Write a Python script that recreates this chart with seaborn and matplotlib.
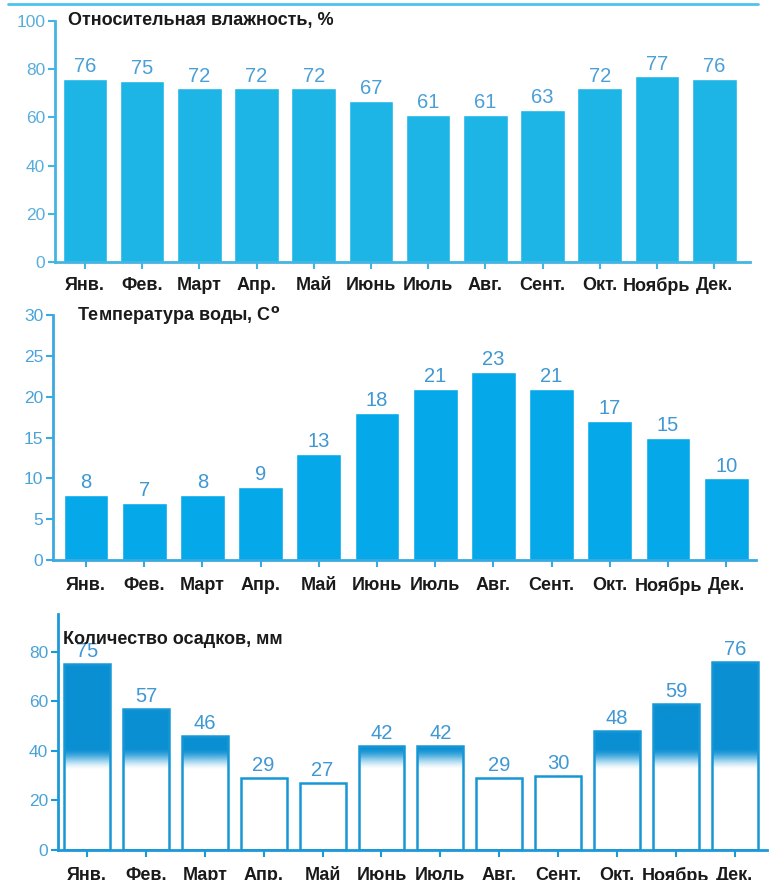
import numpy as np
import seaborn as sns
import matplotlib.pyplot as plt
from matplotlib.lines import Line2D
from matplotlib.colors import to_rgb

months = ['Янв.', 'Фев.', 'Март', 'Апр.', 'Май', 'Июнь',
          'Июль', 'Авг.', 'Сент.', 'Окт.', 'Ноябрь', 'Дек.']
humidity = [76, 75, 72, 72, 72, 67, 61, 61, 63, 72, 77, 76]
water_temp = [8, 7, 8, 9, 13, 18, 21, 23, 21, 17, 15, 10]
precip = [75, 57, 46, 29, 27, 42, 42, 29, 30, 48, 59, 76]

hum_ticks = [0, 20, 40, 60, 80, 100]
temp_ticks = [0, 5, 10, 15, 20, 25, 30]
prec_ticks = [0, 20, 40, 60, 80]

sns.set_style('white')
plt.rcParams['font.family'] = ['Liberation Sans', 'DejaVu Sans']

W, H = 770, 880
fig = plt.figure(figsize=(W / 100, H / 100), dpi=100)


def px_axes(left, right, top, bottom):
    return fig.add_axes([left / W, 1 - bottom / H, (right - left) / W, (bottom - top) / H])


def style(ax, ticks, ylim, xlim, axcol, tickcol, pad_x):
    ax.set_xlim(*xlim)
    ax.set_ylim(*ylim)
    ax.set_yticks(ticks)
    ax.set_xlabel('')
    ax.set_ylabel('')
    for s in ['top', 'right']:
        ax.spines[s].set_visible(False)
    for s in ['left', 'bottom']:
        ax.spines[s].set_color(axcol)
        ax.spines[s].set_linewidth(2)
    ax.tick_params(axis='y', colors=axcol, labelcolor=tickcol, labelsize=12.5,
                   length=5, width=1.5, pad=2, left=True)
    ax.tick_params(axis='x', colors=axcol, labelcolor='#1a1a1a', length=5,
                   width=1.5, pad=pad_x, bottom=True)
    for lab in ax.get_xticklabels():
        lab.set_fontweight('bold')
        lab.set_fontsize(13)


# top rule
fig.add_artist(Line2D([8 / W, 758 / W], [1 - 4 / H, 1 - 4 / H],
                      transform=fig.transFigure, color='#4cc3ee', lw=2))

# humidity
ax1 = px_axes(55, 750, 21, 262)
sns.barplot(x=months, y=humidity, color='#1db5e6', saturation=1, width=0.78, ax=ax1)
style(ax1, hum_ticks, (0, 100), (-0.524, 11.626), '#44b4e2', '#58aedb', 6)
ax1.bar_label(ax1.containers[0], padding=2, color='#4a9fd8', fontsize=14.5)
ax1.text(0.019, 1.0, 'Относительная влажность, %', transform=ax1.transAxes,
         ha='left', va='center', fontsize=13, fontweight='bold', color='#1a1a1a')

# water temperature
ax2 = px_axes(53, 756, 315, 560)
sns.barplot(x=months, y=water_temp, color='#05a9ea', saturation=1, width=0.77, ax=ax2)
style(ax2, temp_ticks, (0, 30), (-0.567, 11.512), '#3aa9df', '#4aa3d8', 7)
ax2.bar_label(ax2.containers[0], padding=2, color='#3f97d3', fontsize=14.5)
ax2.text(0.034, 1.0, r'Температура воды, C$^{\mathbf{o}}$', transform=ax2.transAxes,
         ha='left', va='center', fontsize=13, fontweight='bold', color='#1a1a1a')

# precipitation: white bars, blue gradient above ~35 mm
ax3 = px_axes(58, 767, 614, 850)
sns.barplot(x=months, y=precip, color='white', saturation=1, width=0.78,
            edgecolor='#1796d5', linewidth=1.8, ax=ax3)
xl3 = (-0.492, 11.545)
style(ax3, prec_ticks, (0, 95.3), xl3, '#1c9ad8', '#4aa3d8', 7.5)
ax3.bar_label(ax3.containers[0], padding=2, color='#3f97d3', fontsize=14.5)

yy = np.linspace(0, 95.3, 400)
t = np.clip((yy - 32) / (41 - 32), 0, 1)
alpha = t * t * (3 - 2 * t)
grad = np.zeros((len(yy), 2, 4))
grad[..., :3] = to_rgb('#0a8fd3')
grad[..., 3] = alpha[:, None]
for bar in ax3.containers[0]:
    bar.set_facecolor('none')
    bar.set_zorder(3)
    im = ax3.imshow(grad, extent=[xl3[0], xl3[1], 0, 95.3], origin='lower',
                    aspect='auto', zorder=2, interpolation='bilinear')
    im.set_clip_path(bar)
ax3.set_xlim(*xl3)
ax3.set_ylim(0, 95.3)
ax3.text(0.007, 0.894, 'Количество осадков, мм', transform=ax3.transAxes,
         ha='left', va='center', fontsize=13, fontweight='bold', color='#1a1a1a',
         zorder=5)

plt.savefig('out.png', dpi=100)
